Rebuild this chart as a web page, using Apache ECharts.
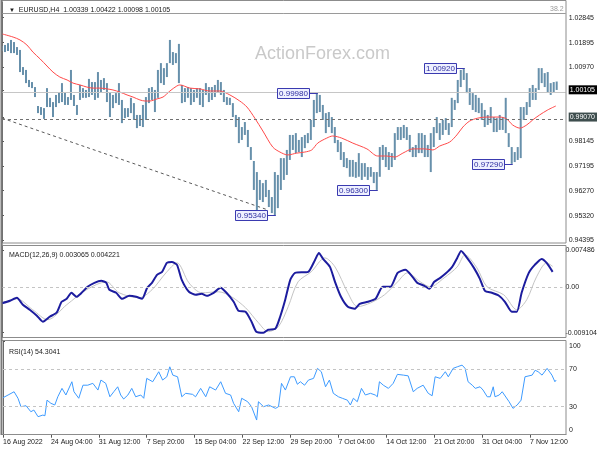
<!DOCTYPE html>
<html><head><meta charset="utf-8">
<script src="https://cdn.jsdelivr.net/npm/echarts@6/dist/echarts.min.js"></script>
<style>html,body{margin:0;padding:0;background:#fff}#c{width:600px;height:450px}</style>
</head><body><div id="c"></div>
<script>
// ---------- DATA ----------
const symbolTitle = 'EURUSD,H4  1.00339 1.00422 1.00098 1.00105';
const macdTitle = 'MACD(12,26,9) 0.003065 0.004221';
const rsiTitle = 'RSI(14) 54.3041';
const watermark = 'ActionForex.com';
const lastClose = 1.00105;
const levelLine = 0.99070;
const fibLevel = 1.02845;
const fibText = '38.2';
const priceTicks = [1.02845, 1.01895, 1.00970, 1.00105, 0.99070, 0.98145, 0.97195, 0.96270, 0.95320, 0.94395];
const macdTicks = [0.007486, 0, -0.009104];
const rsiTicks = [100, 70, 30, 0];
const rsiLevels = [70, 30];
const xTickIdx = [0, 16, 32, 48, 64, 80, 96, 112, 128, 144, 160, 176];
const xLabels = ['16 Aug 2022', '24 Aug 04:00', '31 Aug 12:00', '7 Sep 20:00', '15 Sep 04:00', '22 Sep 12:00',
  '29 Sep 20:00', '7 Oct 04:00', '14 Oct 12:00', '21 Oct 20:00', '31 Oct 04:00', '7 Nov 12:00'];

// price bars (one entry per two H4 bars): highs and lows
const barHigh = [
  1.0177, 1.0181, 1.0188, 1.0200, 1.0192, 1.0173, 1.0162, 1.0097, 1.0086, 1.0048,
  1.0040, 1.0021, 0.9949, 0.9945, 0.9941, 1.0017, 0.9980, 0.9964, 0.9991, 1.0002,
  1.0036, 1.0002, 0.9983, 1.0086, 0.9991, 0.9953, 1.0029, 1.0017, 1.0010, 1.0052,
  1.0040, 1.0040, 1.0078, 1.0048, 1.0055, 1.0036, 1.0002, 0.9991, 0.9998, 1.0036,
  0.9972, 0.9941, 0.9941, 0.9980, 0.9960, 0.9915, 0.9915, 0.9953, 0.9983, 1.0017,
  1.0021, 1.0010, 1.0086, 1.0112, 1.0093, 1.0112, 1.0200, 1.0154, 1.0150, 1.0185,
  1.0029, 1.0017, 1.0021, 1.0017, 1.0010, 1.0017, 1.0017, 1.0010, 1.0036, 1.0021,
  1.0021, 1.0029, 1.0048, 1.0040, 1.0010, 0.9983, 0.9980, 0.9960, 0.9915, 0.9907,
  0.9869, 0.9888, 0.9858, 0.9793, 0.9740, 0.9698, 0.9668, 0.9656, 0.9668, 0.9630,
  0.9603, 0.9698, 0.9687, 0.9751, 0.9751, 0.9782, 0.9839, 0.9839, 0.9846, 0.9820,
  0.9831, 0.9839, 0.9846, 0.9896, 0.9972, 0.9998, 0.9991, 0.9953, 0.9922, 0.9926,
  0.9907, 0.9869, 0.9820, 0.9812, 0.9774, 0.9751, 0.9744, 0.9744, 0.9736, 0.9770,
  0.9732, 0.9732, 0.9717, 0.9717, 0.9698, 0.9698, 0.9793, 0.9801, 0.9793, 0.9774,
  0.9770, 0.9846, 0.9869, 0.9869, 0.9877, 0.9869, 0.9839, 0.9793, 0.9801, 0.9846,
  0.9846, 0.9839, 0.9801, 0.9846, 0.9869, 0.9907, 0.9884, 0.9896, 0.9903, 0.9884,
  0.9980, 0.9972, 1.0048, 1.0086, 1.0092, 1.0074, 1.0017, 0.9998, 0.9991, 0.9980,
  0.9960, 0.9934, 0.9915, 0.9945, 0.9907, 0.9903, 0.9915, 0.9907, 0.9980, 0.9846,
  0.9793, 0.9774, 0.9793, 0.9945, 0.9945, 0.9964, 1.0017, 1.0029, 1.0017, 1.0093,
  1.0093, 1.0074, 1.0078, 1.0036, 1.0040, 1.0042
];
const barLow = [
  1.0158, 1.0154, 1.0158, 1.0150, 1.0150, 1.0143, 1.0078, 1.0067, 1.0036, 1.0021,
  1.0017, 0.9983, 0.9922, 0.9915, 0.9900, 0.9945, 0.9945, 0.9907, 0.9945, 0.9960,
  0.9964, 0.9953, 0.9953, 0.9972, 0.9949, 0.9915, 0.9972, 0.9980, 0.9980, 0.9983,
  0.9991, 0.9972, 0.9980, 1.0002, 1.0010, 0.9964, 0.9907, 0.9941, 0.9960, 0.9953,
  0.9884, 0.9903, 0.9907, 0.9922, 0.9896, 0.9865, 0.9873, 0.9869, 0.9896, 0.9960,
  0.9972, 0.9926, 0.9980, 1.0036, 1.0029, 1.0059, 1.0112, 1.0105, 1.0112, 1.0036,
  0.9960, 0.9964, 0.9980, 0.9953, 0.9964, 0.9980, 0.9953, 0.9945, 0.9991, 0.9964,
  0.9972, 0.9983, 1.0002, 0.9991, 0.9964, 0.9953, 0.9953, 0.9907, 0.9869, 0.9808,
  0.9820, 0.9839, 0.9793, 0.9744, 0.9630, 0.9550, 0.9592, 0.9584, 0.9603, 0.9565,
  0.9542, 0.9534, 0.9561, 0.9630, 0.9668, 0.9687, 0.9744, 0.9782, 0.9770, 0.9774,
  0.9755, 0.9789, 0.9808, 0.9820, 0.9869, 0.9922, 0.9926, 0.9896, 0.9846, 0.9869,
  0.9846, 0.9808, 0.9774, 0.9744, 0.9717, 0.9713, 0.9680, 0.9680, 0.9676, 0.9680,
  0.9668, 0.9680, 0.9668, 0.9680, 0.9656, 0.9630, 0.9680, 0.9744, 0.9717, 0.9706,
  0.9717, 0.9744, 0.9820, 0.9820, 0.9827, 0.9820, 0.9774, 0.9755, 0.9755, 0.9770,
  0.9770, 0.9755, 0.9755, 0.9698, 0.9793, 0.9846, 0.9820, 0.9839, 0.9858, 0.9839,
  0.9869, 0.9934, 0.9960, 1.0021, 1.0048, 0.9998, 0.9953, 0.9934, 0.9926, 0.9922,
  0.9896, 0.9869, 0.9877, 0.9884, 0.9850, 0.9850, 0.9858, 0.9858, 0.9846, 0.9793,
  0.9729, 0.9736, 0.9744, 0.9751, 0.9896, 0.9915, 0.9945, 0.9972, 0.9972, 1.0010,
  1.0036, 1.0021, 1.0002, 0.9991, 1.0002, 1.0010
];

// moving average (red), read at bar positions
const maIdx = [0, 3.7, 6, 8.3, 10.3, 12.7, 15, 17, 19.3, 21.7, 23.7, 26, 28.3, 30.3, 32.7, 35, 37, 39.3, 41.7, 43.7,
  46, 47.7, 49.3, 51.7, 53.7, 56, 58.3, 59.3, 62.7, 66, 69.3, 72.7, 76, 79.3, 81.7, 84.3, 87, 90.3, 92.7, 95.3,
  98.3, 101, 103.3, 105.3, 108.3, 110.3, 113.3, 117, 121.7, 125.3, 128.3, 131, 133.7, 137, 141, 143.7, 146, 149.3,
  151.7, 153.7, 156, 158.7, 161.7, 166, 168.3, 170.3, 172.7, 175, 177, 179.3, 182, 184.7];
const maVal = [1.0223, 1.0211, 1.0200, 1.0181, 1.0154, 1.0128, 1.0101, 1.0078, 1.0059, 1.0048, 1.0036, 1.0029, 1.0021,
  1.0017, 1.0017, 1.0014, 1.0010, 1.0002, 0.9991, 0.9983, 0.9972, 0.9968, 0.9968, 0.9976, 0.9983, 1.0006, 1.0025,
  1.0029, 1.0017, 1.0014, 1.0006, 1.0006, 0.9991, 0.9968, 0.9945, 0.9903, 0.9854, 0.9793, 0.9774, 0.9763, 0.9770,
  0.9774, 0.9782, 0.9808, 0.9827, 0.9835, 0.9827, 0.9808, 0.9786, 0.9759, 0.9759, 0.9755, 0.9770, 0.9786, 0.9786,
  0.9782, 0.9797, 0.9812, 0.9839, 0.9869, 0.9892, 0.9903, 0.9907, 0.9907, 0.9900, 0.9877, 0.9865, 0.9877, 0.9896,
  0.9915, 0.9934, 0.9949];

// dashed trend line
const trendIdx = [0, 88.7];
const trendVal = [0.9903, 0.9554];

// labelled swing levels
const levelIdx = [91, 125, 105, 154, 170];
const levelVal = [0.9534, 0.9630, 0.9998, 1.0092, 0.9729];

// MACD main and signal
const macdIdx = [0, 2.7, 5, 7, 9.3, 11.7, 13.7, 16, 18.3, 20, 21.7, 23.3, 25, 26.7, 28.7, 31, 33.3, 35, 36, 38.3,
  40.3, 42.7, 45, 47, 48.7, 50.3, 52, 53.7, 55.3, 57, 58.7, 60.3, 62.7, 65, 67, 68.7, 71, 73.3, 75.3, 77.7,
  79.3, 81.7, 83.7, 85.3, 87.7, 89.3, 91.7, 93.3, 95, 96.7, 98.3, 102.7, 105, 106.3, 107.7, 110, 111.7, 113.7, 116, 118.3,
  120, 122.7, 125.3, 127.7, 130.3, 132.7, 135.3, 137.7, 139.3, 141.7, 143.3, 145, 147, 148.7, 151, 152.7, 154, 156, 158.3,
  160.3, 162, 164.3, 166.7, 168.7, 171, 172.7, 174.3, 176.7, 178.7, 181, 182.7, 184.7];
const macdVal = [-0.0032, -0.0027, -0.0021, -0.0035, -0.0045, -0.0057, -0.0069, -0.0059, -0.0051, -0.0029, -0.0023,
  -0.0011, -0.0019, -0.0011, 0.0001, 0.0009, 0.0013, 0.0009, -0.0005, -0.0011, -0.0023, -0.0017, -0.0019, -0.0023,
  -0.0001, 0.0009, 0.0025, 0.0031, 0.0049, 0.0051, 0.0045, 0.0015, -0.0009, -0.0015, -0.0013, -0.0017, -0.0011,
  -0.0001, -0.0011, -0.0029, -0.0047, -0.0049, -0.0069, -0.0089, -0.0091, -0.0085, -0.0083, -0.0059, -0.0025, 0.0015,
  0.0029, 0.0031, 0.0055, 0.0069, 0.0057, 0.0041, 0.0011, -0.0019, -0.0039, -0.0043, -0.0033, -0.0029, -0.0023, 0.0001,
  0.0001, 0.0029, 0.0035, 0.0021, 0.0009, 0.0003, -0.0003, 0.0011, 0.0019, 0.0027, 0.0041, 0.0059, 0.0073, 0.0059,
  0.0039, 0.0017, -0.0007, -0.0011, -0.0017, -0.0029, -0.0049, -0.0049, -0.0011, 0.0029, 0.0045, 0.0057, 0.0049, 0.0031];
const sigIdx = [0, 5, 10.3, 15.3, 21.7, 28.3, 35, 39.3, 46, 50.3, 55, 58.7, 62.7, 67, 72.7, 77, 81.7, 86, 89.3, 92.7,
  96, 99.3, 103.7, 108.3, 111.7, 116, 119.3, 123.7, 128.3, 132.7, 136, 140.3, 143.7, 148.3, 152.7, 155.3, 159.3, 162.7,
  168.3, 172.7, 176, 179.3, 182.7, 184.7];
const sigVal = [-0.0031, -0.0023, -0.0045, -0.0065, -0.0035, -0.0005, 0.0011, -0.0011, -0.0021, -0.0005, 0.0029, 0.0049,
  0.0009, -0.0011, -0.0009, -0.0019, -0.0041, -0.0071, -0.0089, -0.0079, -0.0039, 0.0011, 0.0031, 0.0059, 0.0041,
  -0.0011, -0.0039, -0.0031, -0.0015, 0.0011, 0.0029, 0.0011, 0.0001, 0.0019, 0.0041, 0.0065, 0.0039, 0.0001, -0.0015,
  -0.0045, -0.0025, 0.0021, 0.0049, 0.0042];

// RSI(14)
const rsiIdx = [0, 1.7, 3.7, 5, 6, 7.7, 9.3, 10.3, 11.7, 13.3, 14, 14.7, 16, 17.3, 18.3, 19.7, 21, 23, 23.7, 25.3,
  26.7, 28.3, 30, 31.7, 32.7, 34.3, 35.7, 37, 38.3, 39.3, 40.3, 41.7, 43, 44.3, 46, 47, 48, 50, 52, 53.3, 54.7, 55.7,
  56.7, 58.3, 59.7, 61, 63.3, 64.3, 66, 67.7, 69, 71, 72.7, 74.3, 76, 77, 78.7, 79.7, 81.7, 83, 84.7, 85.3, 87, 88.7,
  91, 92, 93, 94.3, 96, 97.3, 98.3, 99.3, 100.7, 102, 103.7, 105, 106.3, 107.7, 109, 110.3, 112, 113.3, 115, 116,
  117, 118.3, 119.7, 121, 122.7, 124.3, 125, 125.7, 127, 128.7, 130.3, 131.7, 133.7, 135.3, 137, 138.3, 140.3, 142,
  143.3, 144.3, 146, 147.7, 148.7, 150.3, 151.7, 153.3, 154.3, 155.3, 156.7, 157.7, 159.3, 160.3, 161.7, 162.7, 163.7,
  164.3, 165.7, 166.7, 169, 170.3, 171.7, 173, 174.3, 176.7, 177.7, 178.7, 180, 181.7, 183.3, 184.3, 184.7];
const rsiVal = [39.6, 42.5, 46, 39, 30, 31, 24.6, 26.4, 19.3, 21, 20.3, 37, 33.6, 31.8, 40.6, 49.6, 42.5, 56.7, 46,
  39, 53, 53, 55, 47.8, 58.5, 55, 40.6, 46, 51.3, 42.5, 38.2, 42.5, 49.6, 40.6, 42.5, 39, 60.3, 56.7, 67.4, 58.5, 62,
  72.7, 63.8, 62, 40.6, 44.3, 43.2, 40.6, 49.6, 40.6, 51.3, 47.8, 56.7, 44.3, 42.5, 33.6, 24.6, 39, 35.3, 30, 15.7,
  35.3, 30, 31.8, 28.2, 30, 55, 47.8, 62, 62, 54, 56.7, 53, 58.5, 60.3, 71, 67.4, 51.3, 58.5, 44.3, 40.6, 39, 37,
  31.8, 39, 35.3, 49.6, 42.5, 44.3, 42.5, 40.6, 56.7, 53, 49.6, 55, 64.6, 63.8, 63, 46, 49.6, 53, 44.3, 41.7, 62,
  60.3, 67.4, 62, 71, 72.7, 74.5, 71, 56.7, 53, 49.6, 51.3, 47.8, 40.6, 40.6, 51.3, 40.6, 42.5, 46, 35.3, 28.2, 31.8,
  37, 62, 63.8, 69, 67.4, 63.8, 71, 63.8, 56.7, 58.5, 54.3];

// ---------- CHART ----------
const FONT = 'Liberation Sans, Arial, sans-serif';
const chart = echarts.init(document.getElementById('c'), null, {renderer: 'canvas'});
const pairs = (xs, ys) => xs.map((x, i) => [x, ys[i]]);
const f5 = v => v.toFixed(5);

const option = {
  animation: false,
  backgroundColor: '#ffffff',
  textStyle: {fontFamily: FONT},
  title: [
    {text: '{t|▼}  ' + symbolTitle, left: 4, top: 2,
     textStyle: {fontSize: 7, fontWeight: 'normal', color: '#1a1a1a', fontFamily: FONT,
       rich: {t: {fontSize: 6, color: '#1a1a1a'}}}},
    {text: macdTitle, left: 4, top: 247, textStyle: {fontSize: 7, fontWeight: 'normal', color: '#1a1a1a', fontFamily: FONT}},
    {text: rsiTitle, left: 4, top: 344, textStyle: {fontSize: 7, fontWeight: 'normal', color: '#1a1a1a', fontFamily: FONT}}
  ],
  grid: [
    {left: 2, right: 34, top: 2, height: 241},
    {left: 2, right: 34, top: 245, height: 92},
    {left: 2, right: 34, top: 341.3, height: 93.4}
  ],
  xAxis: [0, 1, 2].map(g => ({
    type: 'value', gridIndex: g, min: 0, max: 188,
    splitLine: {show: false},
    axisLine: {show: g === 2, lineStyle: {color: '#7a7a7a'}},
    axisTick: {show: g === 2, length: 3, lineStyle: {color: '#555'}, customValues: xTickIdx},
    axisLabel: g === 2 ? {
      show: true, customValues: xTickIdx, align: 'left', margin: 4, fontSize: 7, color: '#1a1a1a',
      fontFamily: FONT, formatter: v => xLabels[xTickIdx.indexOf(Math.round(v))] || ''
    } : {show: false}
  })),
  yAxis: [
    {type: 'value', gridIndex: 0, position: 'right', min: 0.94284, max: 1.03442,
     splitLine: {show: false},
     axisLine: {show: true, lineStyle: {color: '#6a6a6a'}},
     axisTick: {show: true, length: 2, customValues: priceTicks, lineStyle: {color: '#555'}},
     axisLabel: {customValues: priceTicks, margin: 3, fontSize: 7, color: '#1a1a1a', fontFamily: FONT,
       formatter: v => {
         const s = f5(v);
         if (s === f5(lastClose)) return '{cur|' + s + '}';
         if (s === f5(levelLine)) return '{lvl|' + s + '}';
         return s;
       },
       rich: {
         cur: {backgroundColor: '#000000', color: '#ffffff', padding: [1, 2, 1, 1], fontSize: 7, fontFamily: FONT},
         lvl: {backgroundColor: '#3e4e4e', color: '#ffffff', padding: [1, 2, 1, 1], fontSize: 7, fontFamily: FONT}
       }}},
    {type: 'value', gridIndex: 1, position: 'right', min: -0.009967, max: 0.008489,
     splitLine: {show: false},
     axisLine: {show: true, lineStyle: {color: '#6a6a6a'}},
     axisTick: {show: true, length: 2, customValues: macdTicks, lineStyle: {color: '#555'}},
     axisLabel: {customValues: macdTicks, margin: 3, fontSize: 7, color: '#1a1a1a', fontFamily: FONT,
       formatter: v => (Math.abs(v) < 1e-9 ? '0.00' : v.toFixed(6))}},
    {type: 'value', gridIndex: 2, position: 'right', min: 0, max: 100,
     splitLine: {show: false},
     axisLine: {show: true, lineStyle: {color: '#6a6a6a'}},
     axisTick: {show: true, length: 2, customValues: rsiTicks, lineStyle: {color: '#555'}},
     axisLabel: {customValues: rsiTicks, margin: 3, fontSize: 7, color: '#1a1a1a', fontFamily: FONT,
       formatter: v => (v === 100 ? '{hi|100}' : v === 0 ? '{lo|0}' : String(v)),
       rich: {
         hi: {padding: [9, 0, 0, 0], fontSize: 7, color: '#1a1a1a', fontFamily: FONT},
         lo: {padding: [0, 0, 9, 0], fontSize: 7, color: '#1a1a1a', fontFamily: FONT}
       }}}
  ],
  graphic: [
    {type: 'text', left: 255, top: 45, z: 0, silent: true,
     style: {text: watermark, fontSize: 18, fontFamily: FONT, fill: '#c9c9c9'}},
    {type: 'rect', z: 100, silent: true, shape: {x: 1.5, y: 0.5, width: 564.5, height: 242.5},
     style: {fill: 'none', stroke: '#8c8c8c', lineWidth: 1}},
    {type: 'rect', z: 100, silent: true, shape: {x: 1.5, y: 245.5, width: 564.5, height: 92},
     style: {fill: 'none', stroke: '#8c8c8c', lineWidth: 1}},
    {type: 'rect', z: 100, silent: true, shape: {x: 1.5, y: 340.5, width: 564.5, height: 94},
     style: {fill: 'none', stroke: '#8c8c8c', lineWidth: 1}},
    {type: 'line', z: 101, silent: true, shape: {x1: 1.5, y1: 0, x2: 1.5, y2: 435},
     style: {stroke: '#7a7a7a', lineWidth: 2}}
  ],
  series: [
    // price bars
    {type: 'custom', xAxisIndex: 0, yAxisIndex: 0, z: 3,
     data: barHigh.map((h, i) => [i, barLow[i], h]),
     encode: {x: 0, y: [1, 2]},
     renderItem: (params, api) => {
       const top = api.coord([api.value(0), api.value(2)]);
       const bot = api.coord([api.value(0), api.value(1)]);
       return {type: 'rect', shape: {x: top[0] - 1, y: top[1], width: 2, height: Math.max(1, bot[1] - top[1])},
         style: {fill: '#6790ab'}};
     }},
    // moving average + horizontal reference lines
    {type: 'line', xAxisIndex: 0, yAxisIndex: 0, z: 4, data: pairs(maIdx, maVal), smooth: 0.3,
     showSymbol: false, lineStyle: {color: '#ff4a4a', width: 1},
     markLine: {silent: true, symbol: ['none', 'none'], animation: false, label: {show: false},
       data: [
         {yAxis: fibLevel, lineStyle: {color: '#9a9a9a', type: 'solid', width: 1},
          label: {show: true, position: 'insideEndTop', formatter: fibText, color: '#9a9a9a', fontSize: 7,
            fontFamily: FONT, distance: [2, 1]}},
         {yAxis: lastClose, lineStyle: {color: '#c6c6c6', type: 'solid', width: 1}},
         {yAxis: levelLine, lineStyle: {color: '#707070', type: [3, 3], width: 1}}
       ]}},
    // trend line
    {type: 'line', xAxisIndex: 0, yAxisIndex: 0, z: 2, data: pairs(trendIdx, trendVal), showSymbol: false,
     lineStyle: {color: '#5a5a5a', width: 1, type: [3, 3]}},
    // level labels
    {type: 'custom', xAxisIndex: 0, yAxisIndex: 0, z: 6,
     data: pairs(levelIdx, levelVal),
     renderItem: (params, api) => {
       const p = api.coord([api.value(0), api.value(1)]);
       const w = 32, h = 10, gap = 8;
       const x2 = Math.round(p[0] - gap) + 0.5, y = Math.round(p[1]) + 0.5;
       return {type: 'group', children: [
         {type: 'line', shape: {x1: x2, y1: y, x2: p[0] + 1, y2: y}, style: {stroke: '#3a3ab0', lineWidth: 1}},
         {type: 'rect', shape: {x: x2 - w, y: y - h / 2, width: w, height: h},
          style: {fill: '#eef0ff', stroke: '#3a3ab0', lineWidth: 1}},
         {type: 'text', x: x2 - w / 2, y: y,
          style: {text: f5(api.value(1)), fontSize: 8, fontFamily: FONT, fill: '#2e2ea0', align: 'center',
            verticalAlign: 'middle'}}
       ]};
     }},
    // MACD
    {type: 'line', xAxisIndex: 1, yAxisIndex: 1, z: 3, data: pairs(sigIdx, sigVal), smooth: 0.3, showSymbol: false,
     lineStyle: {color: '#c4c4c4', width: 1},
     markLine: {silent: true, symbol: ['none', 'none'], label: {show: false},
       data: [{yAxis: 0, lineStyle: {color: '#c4c4c4', type: [3, 3], width: 1}}]}},
    {type: 'line', xAxisIndex: 1, yAxisIndex: 1, z: 4, data: pairs(macdIdx, macdVal), smooth: 0.2, showSymbol: false,
     lineStyle: {color: '#1c1c9e', width: 2}},
    // RSI
    {type: 'line', xAxisIndex: 2, yAxisIndex: 2, z: 4, data: pairs(rsiIdx, rsiVal), showSymbol: false,
     lineStyle: {color: '#3d9bff', width: 1},
     markLine: {silent: true, symbol: ['none', 'none'], label: {show: false},
       data: rsiLevels.map(v => ({yAxis: v, lineStyle: {color: '#c4c4c4', type: [3, 3], width: 1}}))}}
  ]
};
chart.setOption(option);
</script>
</body></html>
